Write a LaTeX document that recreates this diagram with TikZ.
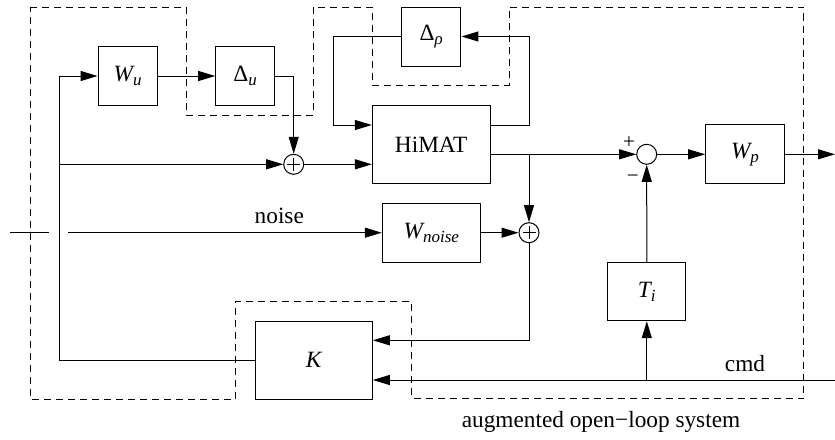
\documentclass[tikz,border=0pt]{standalone}
\usepackage{fontspec}
\setmainfont{Liberation Serif}
\usetikzlibrary{arrows.meta}
\newcommand{\sbs}[1]{\raisebox{-4pt}{\fontsize{17}{17}\selectfont\itshape #1}}
\begin{document}
\begin{tikzpicture}[x=1pt,y=-1pt,
  line width=1pt,
  every node/.style={font=\fontsize{23.3}{27}\selectfont},
  blk/.style={draw, inner sep=0pt, line width=1pt},
  sumnode/.style={draw, circle, minimum size=20pt, inner sep=0pt, line width=1pt},
  plussum/.style={sumnode, path picture={\draw[line width=1pt] ([xshift=-6.5pt]path picture bounding box.center) -- ([xshift=6.5pt]path picture bounding box.center); \draw[line width=1pt] ([yshift=-6.5pt]path picture bounding box.center) -- ([yshift=6.5pt]path picture bounding box.center);}},
  arr/.style={-{Triangle[length=17pt,width=10pt]}},
  bound/.style={dash pattern=on 7pt off 5pt, line width=0.9pt},
  lbl/.style={inner sep=0pt}]
\useasboundingbox (0,0) rectangle (835,439);

% dashed boundary of the augmented open-loop system
\draw[bound] (30,7) -- (186.3,7) -- (186.3,115) -- (313.3,115) -- (313.3,7) -- (372.3,7) -- (372.3,85) -- (509,85) -- (509,7) -- (803.5,7) -- (803.5,398.5) -- (411.7,398.5) -- (411.7,301.7) -- (235.3,301.7) -- (235.3,399) -- (30,399) -- cycle;

% blocks
\node[blk, minimum width=59.3pt, minimum height=58.6pt] (Wu) at (127.7,76) {\itshape W\sbs{u}};
\node[blk, minimum width=59pt, minimum height=58.6pt] (Du) at (245.2,76) {Δ\sbs{u}};
\node[blk, minimum width=59.3pt, minimum height=59pt] (Dr) at (431.3,36.5) {Δ\sbs{ρ}};
\node[blk, minimum width=117.7pt, minimum height=78pt] (HiMAT) at (431.2,144.7) {HiMAT};
\node[blk, minimum width=78.6pt, minimum height=59pt] (Wp) at (745,154.3) {\itshape W\sbs{p}};
\node[blk, minimum width=98pt, minimum height=58.7pt] (Wn) at (431.3,232.7) {\itshape W\sbs{noise}};
\node[blk, minimum width=78.3pt, minimum height=58.4pt] (Ti) at (646.8,291.5) {\itshape T\sbs{i}};
\node[blk, minimum width=117.3pt, minimum height=78.3pt] (K) at (313.7,360.2) {\itshape K};

% summing junctions
\node[plussum] (s1) at (293.7,164.3) {};
\node[sumnode] (s2) at (646.7,154.3) {};
\node[plussum] (s3) at (529,232.7) {};

% coordinates
\coordinate (fb) at (59,76);
\coordinate (ll) at (333.3,125);
\coordinate (lr) at (529,36.5);
\coordinate (jn) at (529,154.3);
\coordinate (out) at (835,154.3);
\coordinate (cmdin) at (835,380);
\coordinate (noisein) at (68.3,232.7);
\coordinate (tickl) at (10,232.7);
\coordinate (tickr) at (49.3,232.7);

% connectors
\draw[arr] (K.west) -| (fb) -- (Wu.west);
\draw[arr] (fb |- s1) -- (s1.west);
\draw[arr] (Wu) -- (Du);
\draw[arr] (Du.east) -| (s1.north);
\draw[arr] (s1.east) -- (HiMAT.west |- s1);
\draw[arr] (HiMAT.east |- ll) -| (lr) -- (Dr.east);
\draw[arr] (Dr.west) -| (ll) -- (HiMAT.west |- ll);
\draw[arr] (HiMAT.east |- s2) -- (s2.west);
\draw[arr] (jn) -- (s3.north);
\draw[arr] (s2) -- (Wp);
\draw[arr] (Wp.east) -- (out);
\draw (tickl) -- (tickr);
\draw[arr] (noisein) -- (Wn.west);
\draw[arr] (Wn) -- (s3);
\draw[arr] (s3.south) |- ([yshift=19.9pt]K.east);
\draw[arr] (cmdin) -- (cmdin -| K.east);
\draw[arr] (cmdin -| Ti) -- (Ti.south);
\draw[arr] (Ti.north) -- (s2.south);

% labels
\node[lbl] (lnoise) at (279.3,216) {noise};
\node[lbl] (lcmd) at (745,363.3) {cmd};
\node[lbl, font=\fontsize{21}{21}\selectfont] (lplus) at (629,142.3) {+};
\node[lbl, font=\fontsize{21}{21}\selectfont] (lminus) at (632.7,178.3) {−};
\node[lbl] (lsys) at (601,421.7) {augmented open−loop system};
\end{tikzpicture}
\end{document}
